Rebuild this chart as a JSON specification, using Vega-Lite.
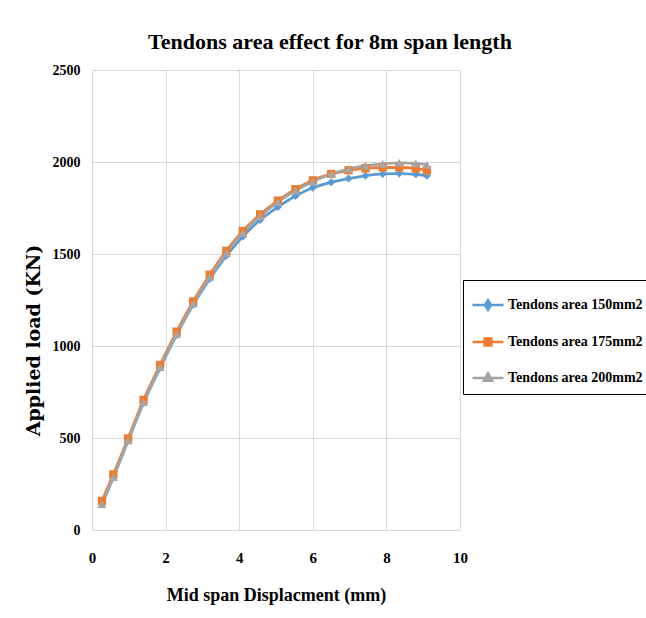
{
  "$schema": "https://vega.github.io/schema/vega-lite/v6.json",
  "width": 368,
  "height": 460,
  "autosize": {"type": "none"},
  "padding": {"left": 92, "top": 70, "right": 186, "bottom": 88},
  "background": "white",
  "title": {
    "text": "Tendons area effect for 8m span length",
    "font": "Liberation Serif",
    "fontWeight": "bold",
    "fontSize": 22,
    "color": "black",
    "anchor": "middle",
    "frame": "group",
    "dx": 54,
    "dy": 28,
    "baseline": "bottom",
    "offset": 15
  },
  "data": {
    "values": [
      {"series": "Tendons area 150mm2", "x": 0.27, "y": 140},
      {"series": "Tendons area 150mm2", "x": 0.58, "y": 285},
      {"series": "Tendons area 150mm2", "x": 0.98, "y": 485},
      {"series": "Tendons area 150mm2", "x": 1.4, "y": 690},
      {"series": "Tendons area 150mm2", "x": 1.85, "y": 880},
      {"series": "Tendons area 150mm2", "x": 2.3, "y": 1060},
      {"series": "Tendons area 150mm2", "x": 2.75, "y": 1225},
      {"series": "Tendons area 150mm2", "x": 3.2, "y": 1365},
      {"series": "Tendons area 150mm2", "x": 3.65, "y": 1490},
      {"series": "Tendons area 150mm2", "x": 4.1, "y": 1595},
      {"series": "Tendons area 150mm2", "x": 4.57, "y": 1685},
      {"series": "Tendons area 150mm2", "x": 5.05, "y": 1755},
      {"series": "Tendons area 150mm2", "x": 5.53, "y": 1815},
      {"series": "Tendons area 150mm2", "x": 6.0, "y": 1860},
      {"series": "Tendons area 150mm2", "x": 6.5, "y": 1890},
      {"series": "Tendons area 150mm2", "x": 6.97, "y": 1910},
      {"series": "Tendons area 150mm2", "x": 7.43, "y": 1925},
      {"series": "Tendons area 150mm2", "x": 7.9, "y": 1935},
      {"series": "Tendons area 150mm2", "x": 8.35, "y": 1937},
      {"series": "Tendons area 150mm2", "x": 8.8, "y": 1933},
      {"series": "Tendons area 150mm2", "x": 9.1, "y": 1925},
      {"series": "Tendons area 175mm2", "x": 0.27, "y": 158},
      {"series": "Tendons area 175mm2", "x": 0.58, "y": 302},
      {"series": "Tendons area 175mm2", "x": 0.98, "y": 497},
      {"series": "Tendons area 175mm2", "x": 1.4, "y": 707},
      {"series": "Tendons area 175mm2", "x": 1.85, "y": 897},
      {"series": "Tendons area 175mm2", "x": 2.3, "y": 1078},
      {"series": "Tendons area 175mm2", "x": 2.75, "y": 1242},
      {"series": "Tendons area 175mm2", "x": 3.2, "y": 1387},
      {"series": "Tendons area 175mm2", "x": 3.65, "y": 1517},
      {"series": "Tendons area 175mm2", "x": 4.1, "y": 1625},
      {"series": "Tendons area 175mm2", "x": 4.57, "y": 1715},
      {"series": "Tendons area 175mm2", "x": 5.05, "y": 1790},
      {"series": "Tendons area 175mm2", "x": 5.53, "y": 1852},
      {"series": "Tendons area 175mm2", "x": 6.0, "y": 1900},
      {"series": "Tendons area 175mm2", "x": 6.5, "y": 1935},
      {"series": "Tendons area 175mm2", "x": 6.97, "y": 1955},
      {"series": "Tendons area 175mm2", "x": 7.43, "y": 1965},
      {"series": "Tendons area 175mm2", "x": 7.9, "y": 1970},
      {"series": "Tendons area 175mm2", "x": 8.35, "y": 1970},
      {"series": "Tendons area 175mm2", "x": 8.8, "y": 1965},
      {"series": "Tendons area 175mm2", "x": 9.1, "y": 1955},
      {"series": "Tendons area 200mm2", "x": 0.27, "y": 140},
      {"series": "Tendons area 200mm2", "x": 0.58, "y": 287},
      {"series": "Tendons area 200mm2", "x": 0.98, "y": 487},
      {"series": "Tendons area 200mm2", "x": 1.4, "y": 695},
      {"series": "Tendons area 200mm2", "x": 1.85, "y": 885},
      {"series": "Tendons area 200mm2", "x": 2.3, "y": 1065},
      {"series": "Tendons area 200mm2", "x": 2.75, "y": 1230},
      {"series": "Tendons area 200mm2", "x": 3.2, "y": 1375},
      {"series": "Tendons area 200mm2", "x": 3.65, "y": 1505},
      {"series": "Tendons area 200mm2", "x": 4.1, "y": 1615},
      {"series": "Tendons area 200mm2", "x": 4.57, "y": 1705},
      {"series": "Tendons area 200mm2", "x": 5.05, "y": 1782},
      {"series": "Tendons area 200mm2", "x": 5.53, "y": 1845},
      {"series": "Tendons area 200mm2", "x": 6.0, "y": 1893},
      {"series": "Tendons area 200mm2", "x": 6.5, "y": 1935},
      {"series": "Tendons area 200mm2", "x": 6.97, "y": 1962},
      {"series": "Tendons area 200mm2", "x": 7.43, "y": 1980},
      {"series": "Tendons area 200mm2", "x": 7.9, "y": 1990},
      {"series": "Tendons area 200mm2", "x": 8.35, "y": 1995},
      {"series": "Tendons area 200mm2", "x": 8.8, "y": 1992},
      {"series": "Tendons area 200mm2", "x": 9.1, "y": 1985}
    ]
  },
  "encoding": {
    "x": {
      "field": "x",
      "type": "quantitative",
      "scale": {"domain": [0, 10], "nice": false, "zero": false},
      "axis": {
        "title": "Mid span Displacment (mm)",
        "values": [0, 2, 4, 6, 8, 10],
        "format": "d",
        "domain": false,
        "ticks": false,
        "grid": true,
        "gridColor": "#d9d9d9",
        "gridWidth": 1,
        "labelFont": "Liberation Serif",
        "labelFontWeight": "bold",
        "labelFontSize": 15,
        "labelColor": "black",
        "labelPadding": 20,
        "labelFlush": false,
        "titleFont": "Liberation Serif",
        "titleFontWeight": "bold",
        "titleFontSize": 18,
        "titleColor": "black",
        "titleBaseline": "middle",
        "titleY": 65
      }
    },
    "y": {
      "field": "y",
      "type": "quantitative",
      "scale": {"domain": [0, 2500], "nice": false},
      "axis": {
        "title": "Applied load (KN)",
        "values": [0, 500, 1000, 1500, 2000, 2500],
        "format": "d",
        "domain": false,
        "ticks": false,
        "grid": true,
        "gridColor": "#d9d9d9",
        "gridWidth": 1,
        "labelFont": "Liberation Serif",
        "labelFontWeight": "bold",
        "labelFontSize": 14,
        "labelColor": "black",
        "labelPadding": 12,
        "labelFlush": false,
        "titleFont": "DejaVu Serif",
        "titleFontWeight": "bold",
        "titleFontSize": 19,
        "titleColor": "black",
        "titleAngle": -90,
        "titleBaseline": "middle",
        "titleAlign": "center",
        "titleX": -59,
        "titleY": 270
      }
    },
    "color": {
      "field": "series",
      "type": "nominal",
      "scale": {
        "domain": ["Tendons area 150mm2", "Tendons area 175mm2", "Tendons area 200mm2"],
        "range": ["#5B9BD5", "#ED7D31", "#A5A5A5"]
      },
      "legend": {
        "title": null,
        "orient": "none",
        "legendX": 371,
        "legendY": 210,
        "strokeColor": "black",
        "padding": 8,
        "rowPadding": 10,
        "symbolSize": 961,
        "symbolStrokeWidth": 2.5,
        "labelOffset": 3,
        "labelFont": "Liberation Serif",
        "labelFontWeight": "bold",
        "labelFontSize": 14,
        "labelColor": "black",
        "labelLimit": 200,
        "encode": {
          "symbols": {
            "update": {
              "shape": {"signal": "datum.value === 'Tendons area 150mm2' ? 'M-1,0L1,0M0,-0.32L0.2,0L0,0.32L-0.2,0Z' : (datum.value === 'Tendons area 175mm2' ? 'M-1,0L1,0M-0.22,-0.22L0.22,-0.22L0.22,0.22L-0.22,0.22Z' : 'M-1,0L1,0M0,-0.32L0.27,0.18L-0.27,0.18Z')"},
              "fill": {"scale": "color", "field": "value"},
              "stroke": {"scale": "color", "field": "value"},
              "strokeWidth": {"value": 2.5},
              "opacity": {"value": 1}
            }
          }
        }
      }
    }
  },
  "layer": [
    {
      "mark": {"type": "line", "strokeWidth": 2.8, "interpolate": "monotone"}
    },
    {
      "transform": [{"filter": "datum.series === 'Tendons area 150mm2'"}],
      "mark": {"type": "point", "filled": true, "opacity": 1, "size": 65, "shape": "diamond"}
    },
    {
      "transform": [{"filter": "datum.series === 'Tendons area 175mm2'"}],
      "mark": {"type": "point", "filled": true, "opacity": 1, "size": 70, "shape": "square"}
    },
    {
      "transform": [{"filter": "datum.series === 'Tendons area 200mm2'"}],
      "mark": {"type": "point", "filled": true, "opacity": 1, "size": 80, "shape": "triangle-up"}
    }
  ],
  "config": {
    "view": {"stroke": null}
  }
}
